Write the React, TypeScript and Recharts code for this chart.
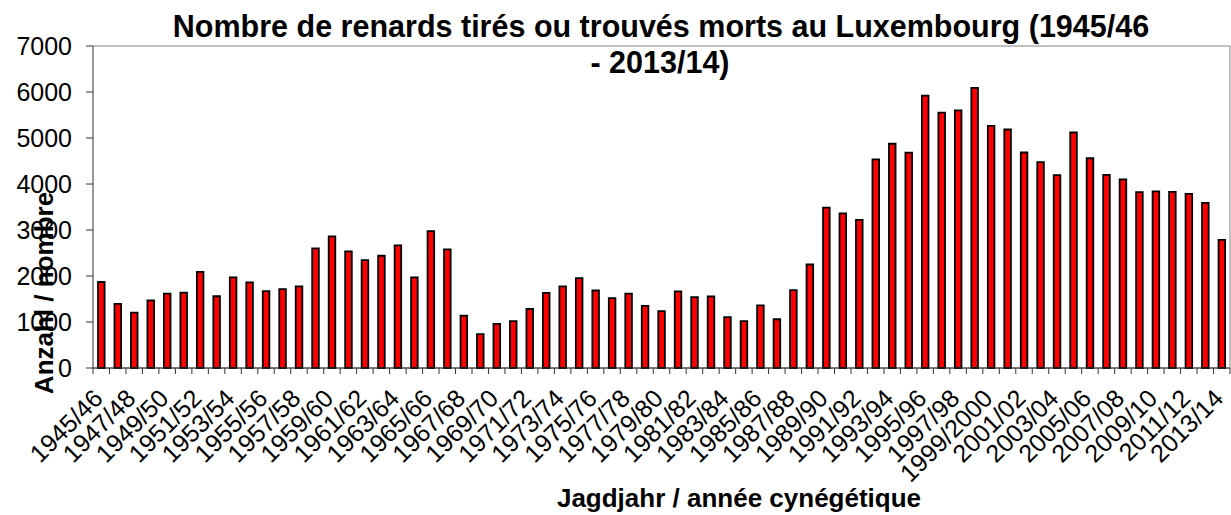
import { Bar, BarChart, CartesianGrid, XAxis, YAxis } from "recharts";

const seasons = [
  "1945/46", "1946/47", "1947/48", "1948/49", "1949/50", "1950/51", "1951/52", "1952/53",
  "1953/54", "1954/55", "1955/56", "1956/57", "1957/58", "1958/59", "1959/60", "1960/61",
  "1961/62", "1962/63", "1963/64", "1964/65", "1965/66", "1966/67", "1967/68", "1968/69",
  "1969/70", "1970/71", "1971/72", "1972/73", "1973/74", "1974/75", "1975/76", "1976/77",
  "1977/78", "1978/79", "1979/80", "1980/81", "1981/82", "1982/83", "1983/84", "1984/85",
  "1985/86", "1986/87", "1987/88", "1988/89", "1989/90", "1990/91", "1991/92", "1992/93",
  "1993/94", "1994/95", "1995/96", "1996/97", "1997/98", "1998/99", "1999/2000", "2000/01",
  "2001/02", "2002/03", "2003/04", "2004/05", "2005/06", "2006/07", "2007/08", "2008/09",
  "2009/10", "2010/11", "2011/12", "2012/13", "2013/14",
];

const foxes = [
  1870, 1395, 1205, 1470, 1615, 1640, 2090, 1560,
  1970, 1860, 1670, 1715, 1775, 2600, 2860, 2535,
  2345, 2440, 2665, 1970, 2975, 2580, 1140, 735,
  960, 1020, 1285, 1635, 1775, 1955, 1685, 1520,
  1615, 1350, 1235, 1665, 1540, 1555, 1105, 1020,
  1360, 1060, 1695, 2250, 3485, 3360, 3220, 4535,
  4875, 4680, 5920, 5550, 5600, 6090, 5265, 5185,
  4685, 4475, 4195, 5120, 4560, 4200, 4100, 3825,
  3840, 3830, 3785, 3590, 2785,
];

const yTicks = [0, 1000, 2000, 3000, 4000, 5000, 6000, 7000];

const title1 = "Nombre de renards tirés ou trouvés morts au Luxembourg (1945/46";
const title2 = "- 2013/14)";
const xTitle = "Jagdjahr / année cynégétique";
const yTitle = "Anzahl / nombre";

const data = seasons.map((season, i) => ({ season, foxes: foxes[i] }));

const W = 1231;
const H = 515;
const PLOT_LEFT = 93;
const PLOT_RIGHT = 1230;
const PLOT_TOP = 46;
const PLOT_BOTTOM = 368;
const BAND = (PLOT_RIGHT - PLOT_LEFT) / seasons.length;
const FONT = "'Liberation Sans', Arial, Helvetica, sans-serif";

// tick marks sit on category boundaries (Excel style), labels on every second season
function SeasonTick(props: any) {
  const { x, payload } = props;
  const i = payload.index ?? props.index;
  const half = BAND / 2;
  const y = PLOT_BOTTOM;
  return (
    <g>
      <line x1={x - half} x2={x - half} y1={y} y2={y + 6} stroke="#333" />
      {i === seasons.length - 1 && <line x1={x + half} x2={x + half} y1={y} y2={y + 6} stroke="#333" />}
      {i % 2 === 0 && (
        <g transform={`translate(${x + 3},${y + 32})`}>
          <text transform="rotate(-45)" x={0} y={0} textAnchor="end" fontSize={25} fontFamily={FONT} fill="#000">
            {payload.value}
          </text>
        </g>
      )}
    </g>
  );
}

export default function App() {
  return (
    <div style={{ position: "absolute", left: 0, top: 0, width: W, height: H, background: "#fff" }}>
      <BarChart
        width={W}
        height={H}
        data={data}
        margin={{ top: PLOT_TOP, right: 0, bottom: 0, left: 0 }}
        barCategoryGap={0}
      >
        <CartesianGrid horizontal vertical={false} stroke="#808080" strokeWidth={1} />
        <XAxis
          dataKey="season"
          interval={0}
          height={H - PLOT_BOTTOM}
          tickSize={0}
          tickMargin={0}
          tickLine={false}
          axisLine={{ stroke: "#333" }}
          tick={<SeasonTick />}
        />
        <YAxis
          yAxisId="left"
          width={PLOT_LEFT}
          domain={[0, 7000]}
          ticks={yTicks}
          interval={0}
          tickSize={7}
          tickMargin={14}
          tickLine={{ stroke: "#333" }}
          axisLine={{ stroke: "#333" }}
          tick={{ fontSize: 25, fill: "#000", fontFamily: FONT }}
        />
        <YAxis
          yAxisId="right"
          orientation="right"
          width={W - PLOT_RIGHT}
          domain={[0, 7000]}
          tick={false}
          tickLine={false}
          axisLine={{ stroke: "#808080" }}
        />
        <Bar
          yAxisId="left"
          dataKey="foxes"
          fill="#FF0000"
          stroke="#000"
          strokeWidth={1.8}
          barSize={6.6}
          isAnimationActive={false}
        />
      </BarChart>
      <svg
        width={W}
        height={H}
        style={{ position: "absolute", left: 0, top: 0, pointerEvents: "none" }}
        fontFamily={FONT}
      >
        <text x={661} y={37} textAnchor="middle" fontSize={30.5} fontWeight="bold" fill="#000">
          {title1}
        </text>
        <text x={660} y={73} textAnchor="middle" fontSize={30.5} fontWeight="bold" fill="#000">
          {title2}
        </text>
        <text x={739} y={507} textAnchor="middle" fontSize={26} fontWeight="bold" fill="#000">
          {xTitle}
        </text>
        <text transform="translate(53,293) rotate(-90)" textAnchor="middle" fontSize={26} fontWeight="bold" fill="#000">
          {yTitle}
        </text>
      </svg>
    </div>
  );
}
